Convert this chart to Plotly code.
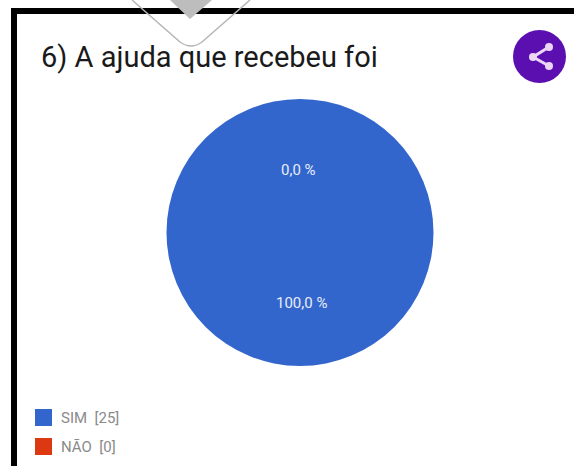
import plotly.graph_objects as go

W, H = 574, 466

title = "6) A ajuda que recebeu foi"
categories = ["SIM", "NÃO"]
answers = [25, 0]
colors = ["#3366cc", "#dc3912"]
percent_pos = [(301, 303), (298, 170)]
legend_rows = [418, 447]


def px(x):
    return x / W


def py(y):
    return 1 - y / H


def pct(v):
    return f"{100 * v / sum(answers):.1f} %".replace(".", ",")


fig = go.Figure(
    go.Pie(
        labels=categories,
        values=answers,
        marker=dict(colors=colors),
        textinfo="none",
        sort=False,
        hoverinfo="label+value",
        showlegend=False,
        domain=dict(x=[px(166), px(434)], y=[py(366), py(99)]),
    )
)

shapes = [
    # card frame
    dict(type="rect", xref="paper", yref="paper", x0=px(11), x1=px(574), y0=py(14), y1=py(8),
         fillcolor="#000", line_width=0, layer="below"),
    dict(type="rect", xref="paper", yref="paper", x0=px(11), x1=px(17), y0=py(466), y1=py(8),
         fillcolor="#000", line_width=0, layer="below"),
    # pull-down tab over the frame
    dict(type="path", xref="paper", yref="paper",
         path=f"M {px(170)} {py(0)} L {px(190)} {py(19)} L {px(212)} {py(0)} Z",
         fillcolor="#bdbdbd", line_width=0),
    dict(type="path", xref="paper", yref="paper",
         path=(f"M {px(132)} {py(0)} L {px(180)} {py(42)} "
               f"Q {px(191)} {py(50)} {px(202)} {py(42)} L {px(250)} {py(0)}"),
         line=dict(color="#b5b5b5", width=1.5)),
    # share button
    dict(type="circle", xref="paper", yref="paper", x0=px(513), x1=px(566), y0=py(83), y1=py(30),
         fillcolor="#5c0fb0", line_width=0),
    dict(type="path", xref="paper", yref="paper",
         path=f"M {px(549)} {py(47)} L {px(533)} {py(57)} L {px(549)} {py(66)}",
         line=dict(color="#ecd6f5", width=3)),
]
for cx, cy in [(549, 47), (533, 57), (549, 66)]:
    shapes.append(dict(type="circle", xref="paper", yref="paper",
                       x0=px(cx - 4), x1=px(cx + 4), y0=py(cy + 4), y1=py(cy - 4),
                       fillcolor="#ecd6f5", line_width=0))

annotations = [
    dict(text=title, x=px(39), y=py(57), xref="paper", yref="paper", xanchor="left", yanchor="middle",
         showarrow=False, font=dict(family="Roboto", size=29, color="#1a1a1a")),
]

for cat, val, col, (lx, ly), row in zip(categories, answers, colors, percent_pos, legend_rows):
    annotations.append(dict(text=pct(val), x=px(lx), y=py(ly), xref="paper", yref="paper",
                            showarrow=False, font=dict(family="Roboto", size=15, color="#e8edf8")))
    shapes.append(dict(type="rect", xref="paper", yref="paper",
                       x0=px(35), x1=px(52), y0=py(row + 8), y1=py(row - 9),
                       fillcolor=col, line_width=0))
    annotations.append(dict(text=f"{cat}  [{val}]", x=px(59), y=py(row), xref="paper", yref="paper",
                            xanchor="left", yanchor="middle", showarrow=False,
                            font=dict(family="Roboto", size=15, color="#8a8a8a")))

fig.update_layout(
    width=W, height=H,
    margin=dict(l=0, r=0, t=0, b=0),
    paper_bgcolor="#fff",
    shapes=shapes,
    annotations=annotations,
)

fig.write_html("out.html")
